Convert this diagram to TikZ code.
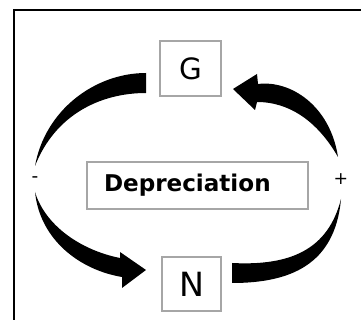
\documentclass[tikz,border=0pt]{standalone}
\usepackage{fontspec}
\setmainfont{DejaVu Sans}
\begin{document}
\begin{tikzpicture}[x=0.75pt,y=-0.75pt,
  box/.style={draw=black!35, line width=0.9pt, inner sep=0pt},
  blob/.style={fill=black}]
\useasboundingbox (0,0) rectangle (361,320);
% frame
\draw[line width=1.5pt] (14,321) -- (14,10.2) -- (362,10.2);
% nodes
\node[box, minimum width=45.75pt, minimum height=41.25pt, font=\fontsize{22}{22}\selectfont] (g) at (190.5,68.5) {G};
\node[box, minimum width=44.25pt, minimum height=40.5pt, font=\fontsize{25}{25}\selectfont] (n) at (191.5,284) {N};
\node[box, minimum width=165.75pt, minimum height=35.25pt, text width=140.25pt, align=left, inner xsep=12.75pt, font=\fontsize{17.3}{17.3}\selectfont\bfseries] (dep) at (197.5,185.5) {Depreciation};
\node[font=\fontsize{14}{14}\selectfont] (minus) at (35,180) {-};
\node[font=\fontsize{13}{13}\selectfont] (plus) at (341,179) {+};
% top-left crescent
\fill[blob] (35,166) .. controls (45,110) and (95,73) .. (146,73) -- (146,93) .. controls (100,93) and (55,115) .. (35,166) -- cycle;
% top-right arrow to G
\fill[blob] (338,157) .. controls (330,105) and (290,80) .. (258,84) -- (257,74) -- (233,89) -- (255,110) -- (257,102) .. controls (290,102) and (318,122) .. (338,157) -- cycle;
% bottom-left arrow to N
\fill[blob] (35,192) .. controls (40,240) and (80,270) .. (122,277) -- (122,288) -- (146,270) -- (120,252) -- (120,258) .. controls (80,250) and (45,225) .. (35,192) -- cycle;
% bottom-right crescent
\fill[blob] (341,199) .. controls (335,265) and (290,283) .. (232,283) -- (232,263) .. controls (290,266) and (328,250) .. (341,199) -- cycle;
\end{tikzpicture}
\end{document}
